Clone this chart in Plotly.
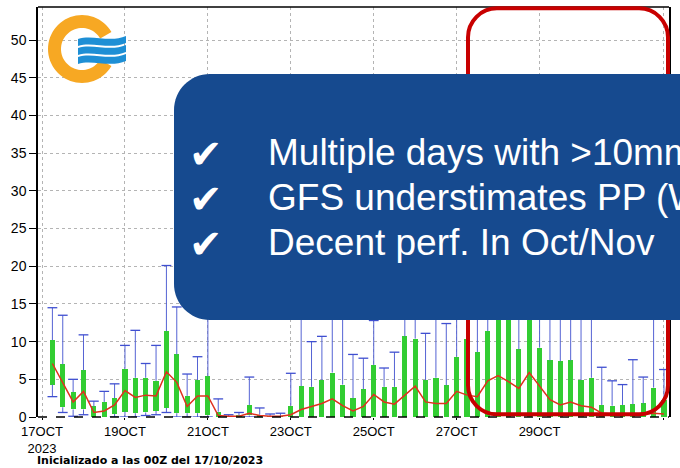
import plotly.graph_objects as go
import pandas as pd
import math

# ---------------- data (6-hourly ensemble precipitation, mm) ----------------
start_time = "2023-10-17 06:00"
n_steps = 60
box_top = [10.2, 7.0, 3.3, 6.2, 1.4, 2.0, 2.5, 6.4, 5.2, 5.2,
           4.8, 11.4, 8.3, 2.8, 4.9, 5.4, 0.7, 0.1, 0.2, 1.6,
           0.3, 0.1, 0.1, 1.5, 4.1, 4.0, 4.9, 5.9, 4.3, 2.5,
           3.7, 6.9, 4.0, 4.0, 10.7, 10.4, 4.9, 5.2, 4.2, 8.0,
           10.4, 8.6, 11.4, 15.0, 14.0, 9.0, 16.0, 9.2, 7.5, 7.4,
           7.5, 4.9, 5.2, 1.6, 1.5, 1.6, 1.7, 1.8, 3.9, 2.2]
box_bottom = [4.3, 1.3, 1.0, 1.0, 0.0, 0.0, 0.4, 0.7, 0.5, 0.6,
              0.8, 1.2, 0.5, 0.5, 0.5, 0.2, 0.0, 0.0, 0.0, 0.2,
              0.0, 0.0, 0.0, 0.0, 0.0, 0.0, 0.0, 0.0, 0.0, 0.0,
              0.0, 0.0, 0.0, 0.0, 0.0, 0.0, 0.0, 0.0, 0.0, 0.0,
              0.0, 0.0, 0.0, 0.0, 0.0, 0.0, 0.0, 0.0, 0.0, 0.0,
              0.0, 0.0, 0.0, 0.0, 0.0, 0.0, 0.0, 0.0, 0.0, 0.0]
whisker_max = [14.5, 13.5, 5.0, 10.9, 2.1, 3.4, 4.4, 9.5, 11.5, 7.1,
               9.5, 20.1, 14.6, 5.7, 8.0, 15.0, 2.4, 0.3, 0.6, 5.3,
               1.2, 0.4, 0.5, 5.8, 18.0, 10.0, 10.7, 22.0, 20.0, 8.3,
               7.8, 12.8, 6.5, 8.6, 25.0, 24.0, 11.1, 18.0, 12.4, 30.0,
               28.0, 26.0, 30.0, 35.0, 33.0, 28.0, 36.0, 30.0, 26.0, 25.0,
               24.0, 22.0, 20.0, 6.6, 4.8, 4.3, 7.6, 5.3, 16.0, 6.3]
whisker_min = [2.7, 0.6, 0.1, 0.3, 0.0, 0.0, 0.0, 0.0, 0.0, 0.2,
               0.3, 0.6, 0.0, 0.0, 0.0, 0.0, 0.0, 0.0, 0.0, 0.0,
               0.0, 0.0, 0.0, 0.0, 0.0, 0.0, 0.0, 0.0, 0.0, 0.0,
               0.0, 0.0, 0.0, 0.0, 0.0, 0.0, 0.0, 0.0, 0.0, 0.0,
               0.0, 0.0, 0.0, 0.0, 0.0, 0.0, 0.0, 0.0, 0.0, 0.0,
               0.0, 0.0, 0.0, 0.0, 0.0, 0.0, 0.0, 0.0, 0.0, 0.0]
central_line = [7.1, 4.5, 2.0, 3.4, 0.6, 0.8, 1.6, 3.5, 2.6, 2.9,
                2.8, 6.0, 4.6, 1.4, 2.8, 2.8, 0.2, 0.1, 0.1, 0.5,
                0.2, 0.1, 0.1, 0.3, 1.0, 1.4, 1.8, 2.4, 1.5, 0.8,
                1.4, 3.0, 2.0, 1.7, 2.9, 4.1, 2.0, 1.8, 1.8, 3.4,
                2.9, 2.7, 4.8, 5.5, 4.7, 3.8, 5.9, 4.1, 2.3, 1.6,
                2.0, 1.5, 1.3, 0.5, 0.4, 0.4, 0.4, 0.4, 0.5, 0.4]

tick_dates = ["2023-10-17", "2023-10-19", "2023-10-21", "2023-10-23",
              "2023-10-25", "2023-10-27", "2023-10-29", "2023-11-01"]
tick_labels = ["17OCT<br>2023", "19OCT", "21OCT", "23OCT",
               "25OCT", "27OCT", "29OCT", "1NOV"]
footer_text = "Inicializado a las 00Z del 17/10/2023"
bullet_lines = ["Multiple days with >10mm",
                "GFS understimates PP (W",
                "Decent perf. In Oct/Nov"]

times = [t.strftime("%Y-%m-%d %H:%M") for t in
         pd.date_range(start_time, periods=n_steps, freq="6h")]

# ---------------- geometry helpers (pixel -> paper) ----------------
L, R, T, B = 38, 11, 7, 51
W, H = 680, 468
PW, PH = W - L - R, H - T - B


def to_paper(px, py):
    return (px - L) / PW, (H - B - py) / PH


def path_from(cmds):
    out = []
    for c, pts in cmds:
        s = " ".join("%.5f,%.5f" % to_paper(*p) for p in pts)
        out.append(c + s)
    return " ".join(out) + " Z"


def rrect(x0, y0, x1, y1, r):
    k = 0.5523 * r
    return path_from([
        ("M", [(x0 + r, y0)]),
        ("L", [(x1 - r, y0)]),
        ("C", [(x1 - r + k, y0), (x1, y0 + r - k), (x1, y0 + r)]),
        ("L", [(x1, y1 - r)]),
        ("C", [(x1, y1 - r + k), (x1 - r + k, y1), (x1 - r, y1)]),
        ("L", [(x0 + r, y1)]),
        ("C", [(x0 + r - k, y1), (x0, y1 - r + k), (x0, y1 - r)]),
        ("L", [(x0, y0 + r)]),
        ("C", [(x0, y0 + r - k), (x0 + r - k, y0), (x0 + r, y0)]),
    ])


def ring_sector(cx, cy, ro, ri, a0, a1, n=60):
    outer = [(cx + ro * math.cos(math.radians(a0 + (a1 - a0) * i / n)),
              cy - ro * math.sin(math.radians(a0 + (a1 - a0) * i / n))) for i in range(n + 1)]
    inner = [(cx + ri * math.cos(math.radians(a1 - (a1 - a0) * i / n)),
              cy - ri * math.sin(math.radians(a1 - (a1 - a0) * i / n))) for i in range(n + 1)]
    cmds = [("M", [outer[0]])] + [("L", [p]) for p in outer[1:]] + [("L", [p]) for p in inner]
    return path_from(cmds)


def wave_band(b, th):
    return path_from([
        ("M", [(78, b + 2)]),
        ("C", [(92, b - 3), (110, b + 6), (126, b - 1)]),
        ("L", [(126, b - 1 + th)]),
        ("C", [(110, b + 6 + th), (92, b - 3 + th), (78, b + 2 + th)]),
    ])


# ---------------- traces ----------------
green = "#32CD32"
wcol = "#5563D4"

fig = go.Figure()

wx, wy, cx_, cy_ = [], [], [], []
for t, lo, q1, q3, hi in zip(times, whisker_min, box_bottom, box_top, whisker_max):
    if hi > q3:
        wx += [t, t, None]
        wy += [q3, hi, None]
        cx_.append(t)
        cy_.append(hi)
    if lo < q1:
        wx += [t, t, None]
        wy += [lo, q1, None]
        cx_.append(t)
        cy_.append(lo)

fig.add_trace(go.Bar(
    x=times, y=[a - b for a, b in zip(box_top, box_bottom)], base=box_bottom,
    width=6 * 3600 * 1000 * 0.5, marker=dict(color=green, line=dict(width=0)),
    showlegend=False, hoverinfo="skip"))
fig.add_trace(go.Scatter(
    x=wx, y=wy, mode="lines", line=dict(color=wcol, width=1),
    showlegend=False, hoverinfo="skip"))
fig.add_trace(go.Scatter(
    x=cx_, y=cy_, mode="markers",
    marker=dict(symbol="line-ew", size=7, line=dict(color="#3F4FD0", width=1.3)),
    showlegend=False, hoverinfo="skip"))
fig.add_trace(go.Scatter(
    x=times, y=central_line, mode="lines", line=dict(color="#E0301E", width=1.5),
    showlegend=False, hoverinfo="skip"))

# ---------------- layout ----------------
grid = dict(showgrid=True, gridcolor="#B4B4B4", griddash="dot", gridwidth=1)
fig.update_layout(
    width=W, height=H, margin=dict(l=L, r=R, t=T, b=B),
    paper_bgcolor="white", plot_bgcolor="white",
    bargap=0, showlegend=False,
    font=dict(family="Liberation Sans, Arial, sans-serif", size=14, color="black"),
    xaxis=dict(type="date", range=["2023-10-16 21:40", "2023-11-01 02:55"],
               tickvals=tick_dates, ticktext=tick_labels, ticks="outside",
               ticklen=2, tickcolor="black", showline=False, zeroline=False,
               tickfont=dict(size=13), **grid),
    yaxis=dict(range=[0, 54.4], tickvals=list(range(0, 51, 5)), ticks="outside",
               ticklen=7, tickcolor="black", showline=True, linecolor="black",
               linewidth=1.5, mirror=True, zeroline=False,
               tickfont=dict(size=14), **grid),
)

shapes = [
    dict(type="line", xref="paper", yref="paper", x0=0, x1=1, y0=1, y1=1,
         line=dict(color="black", width=1.5), layer="above"),
    dict(type="line", xref="paper", yref="paper", x0=0, x1=1, y0=0, y1=0,
         line=dict(color="black", width=1.5, dash="dash"), layer="above"),
    dict(type="path", xref="paper", yref="paper", path=rrect(468, 8.3, 668, 414.3, 29),
         line=dict(color="#C80000", width=4), fillcolor="rgba(0,0,0,0)", layer="above"),
    dict(type="path", xref="paper", yref="paper", path=rrect(174, 74, 760, 320, 36),
         line=dict(width=0), fillcolor="#164A8F", layer="above"),
    dict(type="path", xref="paper", yref="paper", path=ring_sector(82, 49, 34, 21, 30, 330),
         line=dict(width=0), fillcolor="#F7A823", layer="above"),
]
for b in (37, 46, 55):
    shapes.append(dict(type="path", xref="paper", yref="paper", path=wave_band(b, 7),
                       line=dict(width=0), fillcolor="#1E8FD5", layer="above"))
fig.update_layout(shapes=shapes)

ann = []
for i, txt in enumerate(bullet_lines):
    ycen = 152.5 + 45 * i
    ax, ay = to_paper(206, ycen + 1)
    ann.append(dict(xref="paper", yref="paper", x=ax, y=ay, xanchor="center", yanchor="middle",
                    text="✔", showarrow=False,
                    font=dict(family="DejaVu Sans", size=40, color="white")))
    tx, ty = to_paper(266, ycen)
    ann.append(dict(xref="paper", yref="paper", x=tx, y=ty, xanchor="left", yanchor="middle",
                    text=txt, showarrow=False,
                    font=dict(family="Liberation Sans, Arial", size=37, color="white")))
fx, fy = to_paper(36, 460)
ann.append(dict(xref="paper", yref="paper", x=fx, y=fy, xanchor="left", yanchor="middle",
                text="<b>" + footer_text + "</b>", showarrow=False, borderpad=0,
                font=dict(family="DejaVu Sans", size=11, color="black")))
fig.update_layout(annotations=ann)

fig.write_html("out.html", config={"displayModeBar": False},
               post_script="document.body.style.margin='0px';")
